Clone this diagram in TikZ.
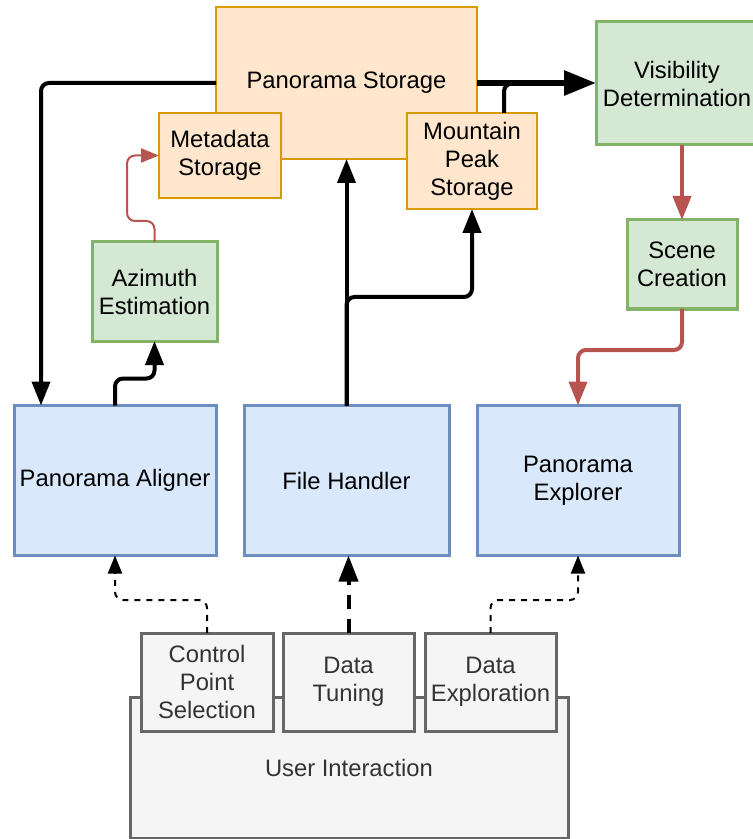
\documentclass[tikz,border=0pt]{standalone}
\usepackage{fontspec}
\setmainfont{Liberation Sans}
\usepackage{xcolor}
\usetikzlibrary{arrows.meta,positioning}

\definecolor{blueFill}{HTML}{DAE8FC}
\definecolor{blueLine}{HTML}{6C8EBF}
\definecolor{greenFill}{HTML}{D5E8D4}
\definecolor{greenLine}{HTML}{82B366}
\definecolor{orangeFill}{HTML}{FFE6CC}
\definecolor{orangeLine}{HTML}{D79B00}
\definecolor{grayFill}{HTML}{F5F5F5}
\definecolor{grayLine}{HTML}{666666}
\definecolor{grayText}{HTML}{333333}
\definecolor{redLine}{HTML}{B85450}

\begin{document}
\begin{tikzpicture}[
    x=0.5pt, y=-0.5pt,
    box/.style={rectangle, draw, align=center, inner sep=1pt, outer sep=0pt, font=\fontsize{11.9}{14}\selectfont},
    storebox/.style={box, fill=orangeFill, draw=orangeLine, line width=0.75pt},
    calcbox/.style={box, fill=greenFill, draw=greenLine, line width=1.5pt},
    viewbox/.style={box, fill=blueFill, draw=blueLine, line width=1.5pt, minimum width=101pt, minimum height=75pt},
    userbox/.style={box, fill=grayFill, draw=grayLine, line width=1.5pt, text=grayText},
    flow/.style={line width=2pt, rounded corners=4pt, -{Triangle[length=12pt,width=9pt]}},
    mainflow/.style={line width=3pt, -{Triangle[length=16pt,width=12pt]}},
    redflow/.style={draw=redLine, line width=2pt, rounded corners=4pt, -{Triangle[length=12pt,width=9pt]}},
    thinred/.style={draw=redLine, line width=1pt, rounded corners=4pt, -{Triangle[length=9pt,width=7pt]}},
    userflow/.style={line width=1pt, dash pattern=on 3pt off 3pt, rounded corners=4pt, -{Triangle[length=9pt,width=7pt]}},
    tuneflow/.style={line width=2pt, dash pattern=on 7pt off 5pt, -{Triangle[length=13pt,width=9.5pt]}}
]
    \useasboundingbox (0,0) rectangle (753,839);

    % storage
    \node[storebox, minimum width=130.5pt, minimum height=76pt] (store) at (346.5,83) {Panorama Storage};
    \node[storebox, minimum width=61pt, minimum height=42.5pt] (meta) at (220,155.5) {Metadata\\Storage};
    \node[storebox, minimum width=65pt, minimum height=48pt] (peak) at (472,161) {Mountain\\Peak\\Storage};

    % processing
    \node[calcbox, minimum width=81pt, minimum height=61.5pt] (vis) at (677,83.5) {Visibility\\Determination};
    \node[calcbox, minimum width=55pt, minimum height=44.5pt] (scene) at (682,264.5) {Scene\\Creation};
    \node[calcbox, minimum width=62.5pt, minimum height=49.5pt] (azim) at (154.5,291.5) {Azimuth\\Estimation};

    % views
    \node[viewbox] (aligner) at (115,480.5) {Panorama Aligner};
    \node[viewbox, minimum width=102.5pt, right=14pt of aligner] (handler) {File Handler};
    \node[viewbox, right=14pt of handler] (explorer) {Panorama\\Explorer};

    % user interaction
    \node[userbox, minimum width=219pt, minimum height=70.5pt] (userint) at (349,767.5) {User Interaction};
    \node[userbox, minimum width=66pt, minimum height=49pt] (ctrl) at (207,682) {Control\\Point\\Selection};
    \node[userbox, minimum width=65.5pt, minimum height=49pt, right=5pt of ctrl] (tune) {Data\\Tuning};
    \node[userbox, minimum width=65.5pt, minimum height=49pt, right=5.5pt of tune] (explore) {Data\\Exploration};

    \coordinate (split) at (346.5,297);

    \draw[flow] (store.west) -| ([xshift=13.5pt]aligner.north west);
    \draw[flow] (aligner.north) -- ++(0,-27) -| (azim.south);
    \draw[thinred] (azim.north) -- ++(0,-21) -| ([xshift=-16pt]meta.west) -- (meta.west);
    \draw[flow] (handler.north) -- (store.south);
    \draw[flow] (handler.north) -- (split) -| (peak.south);
    \draw[line width=2pt, rounded corners=4pt] ([xshift=16pt]peak.north) |- ([xshift=-20pt]vis.west);
    \draw[mainflow] (store.east) -- (store.east -| vis.west);
    \draw[redflow] (scene.north |- vis.south) -- (scene.north);
    \draw[redflow] (scene.south) -- ++(0,41) -| (explorer.north);

    \draw[userflow] (ctrl.north) -- ++(0,-33) -| (aligner.south);
    \draw[tuneflow] (tune.north) -- (tune.north |- handler.south);
    \draw[userflow] (explore.north) -- ++(0,-33) -| (explorer.south);
\end{tikzpicture}
\end{document}
